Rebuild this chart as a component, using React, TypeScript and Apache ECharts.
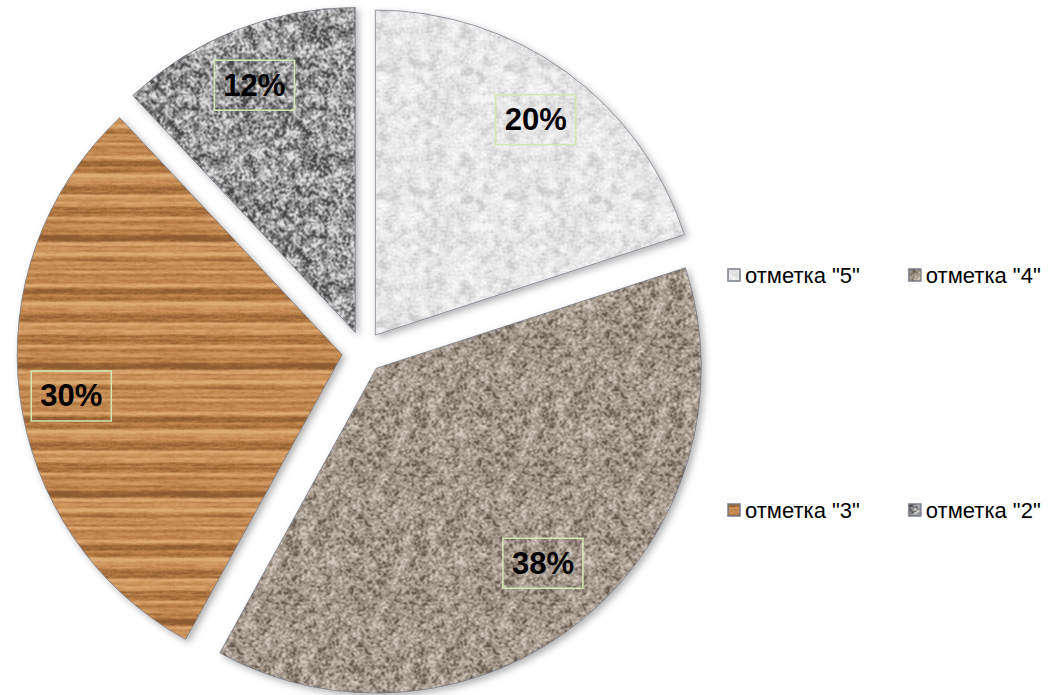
import React, { useEffect, useRef } from 'react';
import * as echarts from 'echarts';

const categories = ['отметка "5"', 'отметка "4"', 'отметка "3"', 'отметка "2"'];
const values = [20, 38, 30, 12];
const legendRow1 = [categories[0], categories[1]];
const legendRow2 = [categories[2], categories[3]];

const FONT = "'Liberation Sans Narrow', 'Arial Narrow', 'Liberation Sans', Arial, sans-serif";

type RGB = [number, number, number];
function hex(h: string): RGB {
  const n = parseInt(h.slice(1), 16);
  return [(n >> 16) & 255, (n >> 8) & 255, n & 255];
}
function mulberry32(a: number) {
  return function () {
    a |= 0; a = (a + 0x6d2b79f5) | 0;
    let t = Math.imul(a ^ (a >>> 15), 1 | a);
    t = (t + Math.imul(t ^ (t >>> 7), 61 | t)) ^ t;
    return ((t ^ (t >>> 14)) >>> 0) / 4294967296;
  };
}
function blur(src: Float32Array, size: number, rx: number, ry: number) {
  const out = new Float32Array(size * size);
  for (let y = 0; y < size; y++) {
    for (let x = 0; x < size; x++) {
      let s = 0, c = 0;
      for (let dy = -ry; dy <= ry; dy++) {
        const yy = (y + dy + size) % size;
        for (let dx = -rx; dx <= rx; dx++) {
          const xx = (x + dx + size) % size;
          const w = 1 / (1 + Math.abs(dx) + Math.abs(dy));
          s += src[yy * size + xx] * w; c += w;
        }
      }
      out[y * size + x] = s / c;
    }
  }
  return out;
}
function standardize(v: Float32Array) {
  let m = 0; for (let i = 0; i < v.length; i++) m += v[i]; m /= v.length;
  let sd = 0; for (let i = 0; i < v.length; i++) sd += (v[i] - m) ** 2; sd = Math.sqrt(sd / v.length) || 1;
  const out = new Float32Array(v.length);
  for (let i = 0; i < v.length; i++) out[i] = (v[i] - m) / sd;
  return out;
}
function toUnit(z: Float32Array, k: number) {
  const out = new Float32Array(z.length);
  for (let i = 0; i < z.length; i++) out[i] = Math.max(0, Math.min(1, 0.5 + z[i] / k));
  return out;
}
function paint(v: Float32Array, size: number, stops: [number, string][]) {
  const cs = stops.map(([p, c]) => [p, hex(c)] as [number, RGB]);
  const canvas = document.createElement('canvas');
  canvas.width = size; canvas.height = size;
  const ctx = canvas.getContext('2d')!;
  const img = ctx.createImageData(size, size);
  for (let i = 0; i < v.length; i++) {
    const t = v[i];
    let j = 0; while (j < cs.length - 2 && t > cs[j + 1][0]) j++;
    const [p0, c0] = cs[j]; const [p1, c1] = cs[j + 1];
    const f = Math.max(0, Math.min(1, (t - p0) / (p1 - p0 || 1)));
    img.data[i * 4] = c0[0] + (c1[0] - c0[0]) * f;
    img.data[i * 4 + 1] = c0[1] + (c1[1] - c0[1]) * f;
    img.data[i * 4 + 2] = c0[2] + (c1[2] - c0[2]) * f;
    img.data[i * 4 + 3] = 255;
  }
  ctx.putImageData(img, 0, 0);
  return canvas;
}
function speckle(size: number, seed: number, r: number, bigW: number, k: number, stops: [number, string][]) {
  const rnd = mulberry32(seed);
  const n = new Float32Array(size * size);
  for (let i = 0; i < n.length; i++) n[i] = rnd();
  const small = standardize(blur(n, size, r, r));
  const big = standardize(blur(n, size, r + 4, r + 4));
  const mix = new Float32Array(n.length);
  for (let i = 0; i < n.length; i++) mix[i] = small[i] * (1 - bigW) + big[i] * bigW;
  return paint(toUnit(standardize(mix), k), size, stops);
}
function wood(size: number, seed: number, stops: [number, string][]) {
  const rnd = mulberry32(seed);
  const n = new Float32Array(size * size);
  for (let i = 0; i < n.length; i++) n[i] = rnd();
  const streak = standardize(blur(n, size, 20, 0));
  const rows = new Float32Array(size * size);
  const rr = mulberry32(seed + 7);
  const rowv: number[] = [];
  for (let y = 0; y < size; y++) rowv.push(rr());
  for (let y = 0; y < size; y++) {
    let s = 0, c = 0;
    for (let d = -2; d <= 2; d++) { const w = 3 - Math.abs(d); s += rowv[(y + d + size) % size] * w; c += w; }
    for (let x = 0; x < size; x++) rows[y * size + x] = s / c;
  }
  const rn = standardize(rows);
  const mix = new Float32Array(n.length);
  for (let i = 0; i < n.length; i++) mix[i] = rn[i] * 0.7 + streak[i] * 0.3;
  return paint(toUnit(standardize(mix), 3.6), size, stops);
}

function pattern(canvas: HTMLCanvasElement) {
  return {
    image: canvas.toDataURL(),
    repeat: 'repeat',
    imageWidth: canvas.width,
    imageHeight: canvas.height,
  } as any;
}

export default function App() {
  const ref = useRef<HTMLDivElement>(null);
  useEffect(() => {
    if (!ref.current) return;
    const chart = echarts.init(ref.current, undefined, { renderer: 'svg' });
    const T = 128;
    const fills = [
      pattern(speckle(T, 11, 1, 0.6, 4.5, [[0, '#cccccc'], [0.45, '#e5e5e5'], [1, '#f8f8f8']])),
      pattern(speckle(T, 23, 1, 0.2, 4.2, [[0, '#64584e'], [0.38, '#998d81'], [0.62, '#ada195'], [1, '#d2c8be']])),
      pattern(wood(T, 37, [[0, '#8e5a30'], [0.3, '#b27840'], [0.6, '#c98f57'], [1, '#dfac75']])),
      pattern(speckle(T, 51, 1, 0.3, 3.6, [[0, '#444444'], [0.38, '#838383'], [0.62, '#a8a8a8'], [1, '#e0e0e0']])),
    ];
    const itemStyle = {
      borderColor: 'rgba(110,115,130,0.7)',
      borderWidth: 1,
      shadowBlur: 7,
      shadowColor: 'rgba(0,0,0,0.3)',
      shadowOffsetX: 3,
      shadowOffsetY: 3,
    };
    const mainData = categories.map((name, i) => ({
      name,
      value: values[i],
      selected: true,
      itemStyle: { ...itemStyle, color: fills[i] },
      select: { itemStyle: { ...itemStyle, color: fills[i] } },
    }));
    const labelNudges = [[4, 0], [-3, -10], [-7, 8], [-3, 0]];
    const labelData = categories.map((name, i) => ({
      name,
      value: values[i],
      selected: true,
    }));
    const legendCommon = {
      left: 727,
      width: 330,
      orient: 'horizontal',
      icon: 'rect',
      itemWidth: 12,
      itemHeight: 12,
      itemGap: 48,
      padding: 0,
      selectedMode: false,
      textStyle: { fontSize: 22, fontFamily: FONT, color: '#000' },
    };
    chart.setOption({
      animation: false,
      backgroundColor: '#ffffff',
      legend: [
        { ...legendCommon, data: legendRow1, top: 264 },
        { ...legendCommon, data: legendRow2, top: 499 },
      ],
      series: [
        {
          type: 'pie',
          name: 'main',
          center: [363, 352],
          radius: [0, 325],
          startAngle: 90,
          clockwise: true,
          selectedMode: 'multiple',
          selectedOffset: 21,
          label: { show: false },
          labelLine: { show: false },
          emphasis: { disabled: true },
          data: mainData,
        },
        {
          type: 'pie',
          name: 'labels',
          center: [363, 352],
          radius: [201, 325],
          startAngle: 90,
          clockwise: true,
          silent: true,
          selectedMode: 'multiple',
          selectedOffset: 21,
          itemStyle: { color: 'rgba(0,0,0,0)', borderWidth: 0 },
          select: { itemStyle: { color: 'rgba(0,0,0,0)', borderWidth: 0 } },
          emphasis: { disabled: true },
          labelLine: { show: false },
          labelLayout: (p: any) => ({ dx: labelNudges[p.dataIndex][0], dy: labelNudges[p.dataIndex][1] }),
          label: {
            show: true,
            position: 'inside',
            formatter: '{c}%',
            fontSize: 31,
            fontWeight: 'bold',
            fontFamily: FONT,
            color: '#000',
            lineHeight: 34,
            borderColor: '#d3e7b3',
            borderWidth: 1.5,
            padding: [8, 9, 8, 9],
          },
          data: labelData,
        },
      ],
    });
    return () => chart.dispose();
  }, []);
  return <div ref={ref} style={{ position: 'fixed', left: 0, top: 0, width: 1048, height: 695 }} />;
}
